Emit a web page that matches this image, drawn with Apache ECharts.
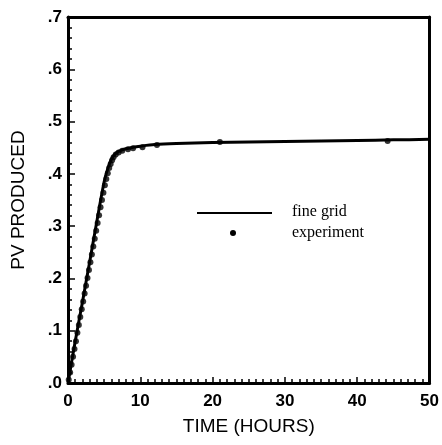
<!DOCTYPE html>
<html>
<head>
<meta charset="utf-8">
<script src="https://cdn.jsdelivr.net/npm/echarts@6/dist/echarts.min.js"></script>
<style>html,body{margin:0;padding:0;background:#fff}#c{width:442px;height:445px}</style>
</head>
<body>
<div id="c"></div>
<script>
var fineGridX = [0, 0.5, 1, 2, 3, 4, 5, 5.5, 6, 6.5, 7, 7.5, 8, 9, 10, 12, 15, 20, 25, 30, 35, 40, 45, 50];
var fineGridY = [0, 0.04, 0.08, 0.155, 0.232, 0.31, 0.385, 0.41, 0.428, 0.438, 0.443, 0.446, 0.448, 0.451, 0.453, 0.456, 0.458, 0.460, 0.461, 0.462, 0.463, 0.464, 0.465, 0.466];
var expX = [0.1,0.3,0.5,0.7,0.9,1.1,1.3,1.5,1.7,1.9,2.1,2.3,2.5,2.7,2.9,3.1,3.3,3.5,3.7,3.9,4.1,4.3,4.5,4.7,4.9,5.1,5.3,5.5,5.7,5.9,6.1,6.3,6.6,7.0,7.5,8.3,9.0,10.3,12.3,21.0,44.2];
var expY = [0.006,0.02,0.035,0.05,0.065,0.08,0.096,0.111,0.126,0.141,0.156,0.171,0.186,0.201,0.216,0.231,0.246,0.261,0.276,0.291,0.306,0.321,0.336,0.35,0.364,0.378,0.39,0.401,0.411,0.419,0.426,0.432,0.437,0.441,0.444,0.447,0.449,0.451,0.455,0.461,0.463];
var xTicks = [0, 10, 20, 30, 40, 50];
var yTicks = [0, 0.1, 0.2, 0.3, 0.4, 0.5, 0.6, 0.7];
var seriesNames = ['fine grid', 'experiment'];
var xTitle = 'TIME (HOURS)';
var yTitle = 'PV PRODUCED';

function pairs(xs, ys){ return xs.map(function(x,i){ return [x, ys[i]]; }); }

var chart = echarts.init(document.getElementById('c'), null, {renderer:'canvas'});
var sans = 'Liberation Sans, Arial, sans-serif';
chart.setOption({
  animation:false,
  backgroundColor:'#fff',
  grid:{left:68, right:11, top:17, bottom:62, containLabel:false},
  xAxis:[{
    type:'value', min:xTicks[0], max:xTicks[xTicks.length-1], interval:10,
    name:xTitle, nameLocation:'middle', nameGap:34,
    nameTextStyle:{color:'#000', fontFamily:sans, fontSize:19},
    axisLine:{onZero:false, lineStyle:{color:'#000', width:3}},
    axisTick:{inside:true, length:6, lineStyle:{color:'#000', width:1.5}},
    minorTick:{show:true, splitNumber:10, length:4, lineStyle:{color:'#000', width:1.5}},
    axisLabel:{margin:10, color:'#000', fontFamily:sans, fontSize:17, fontWeight:'bold'},
    splitLine:{show:false}
  },{
    type:'value', position:'top', min:0, max:50,
    axisLine:{onZero:false, lineStyle:{color:'#000', width:3}},
    axisTick:{show:false}, axisLabel:{show:false}, splitLine:{show:false}
  }],
  yAxis:[{
    type:'value', min:yTicks[0], max:yTicks[yTicks.length-1], interval:0.1,
    name:yTitle, nameLocation:'middle', nameGap:40, nameRotate:90,
    nameTextStyle:{color:'#000', fontFamily:sans, fontSize:19},
    axisLine:{onZero:false, lineStyle:{color:'#000', width:3}},
    axisTick:{inside:true, length:7, lineStyle:{color:'#000', width:1.5}},
    minorTick:{show:true, splitNumber:5, length:4, lineStyle:{color:'#000', width:1.5}},
    axisLabel:{margin:6, color:'#000', fontFamily:sans, fontSize:17, fontWeight:'bold',
      formatter:function(v){ return v.toFixed(1).replace(/^0/, ''); }},
    splitLine:{show:false}
  },{
    type:'value', position:'right', min:0, max:0.7, interval:0.1,
    axisLine:{onZero:false, lineStyle:{color:'#000', width:3}},
    axisTick:{show:false}, axisLabel:{show:false}, splitLine:{show:false}
  }],
  series:[{
    name:seriesNames[0], type:'line', data:pairs(fineGridX, fineGridY),
    showSymbol:false, symbol:'none', smooth:0.3,
    lineStyle:{color:'#000', width:3}
  },{
    name:seriesNames[1], type:'scatter', data:pairs(expX, expY),
    symbol:'circle', symbolSize:6, itemStyle:{color:'#000'}
  }],
  graphic:[
    {type:'line', shape:{x1:197, y1:213, x2:272, y2:213}, style:{stroke:'#000', lineWidth:2}},
    {type:'circle', shape:{cx:233, cy:233, r:3}, style:{fill:'#000'}},
    {type:'text', left:292, top:204, style:{text:seriesNames[0], font:'16px "Liberation Serif", serif', fill:'#000'}},
    {type:'text', left:292, top:225, style:{text:seriesNames[1], font:'16px "Liberation Serif", serif', fill:'#000'}}
  ]
});
</script>
</body>
</html>
